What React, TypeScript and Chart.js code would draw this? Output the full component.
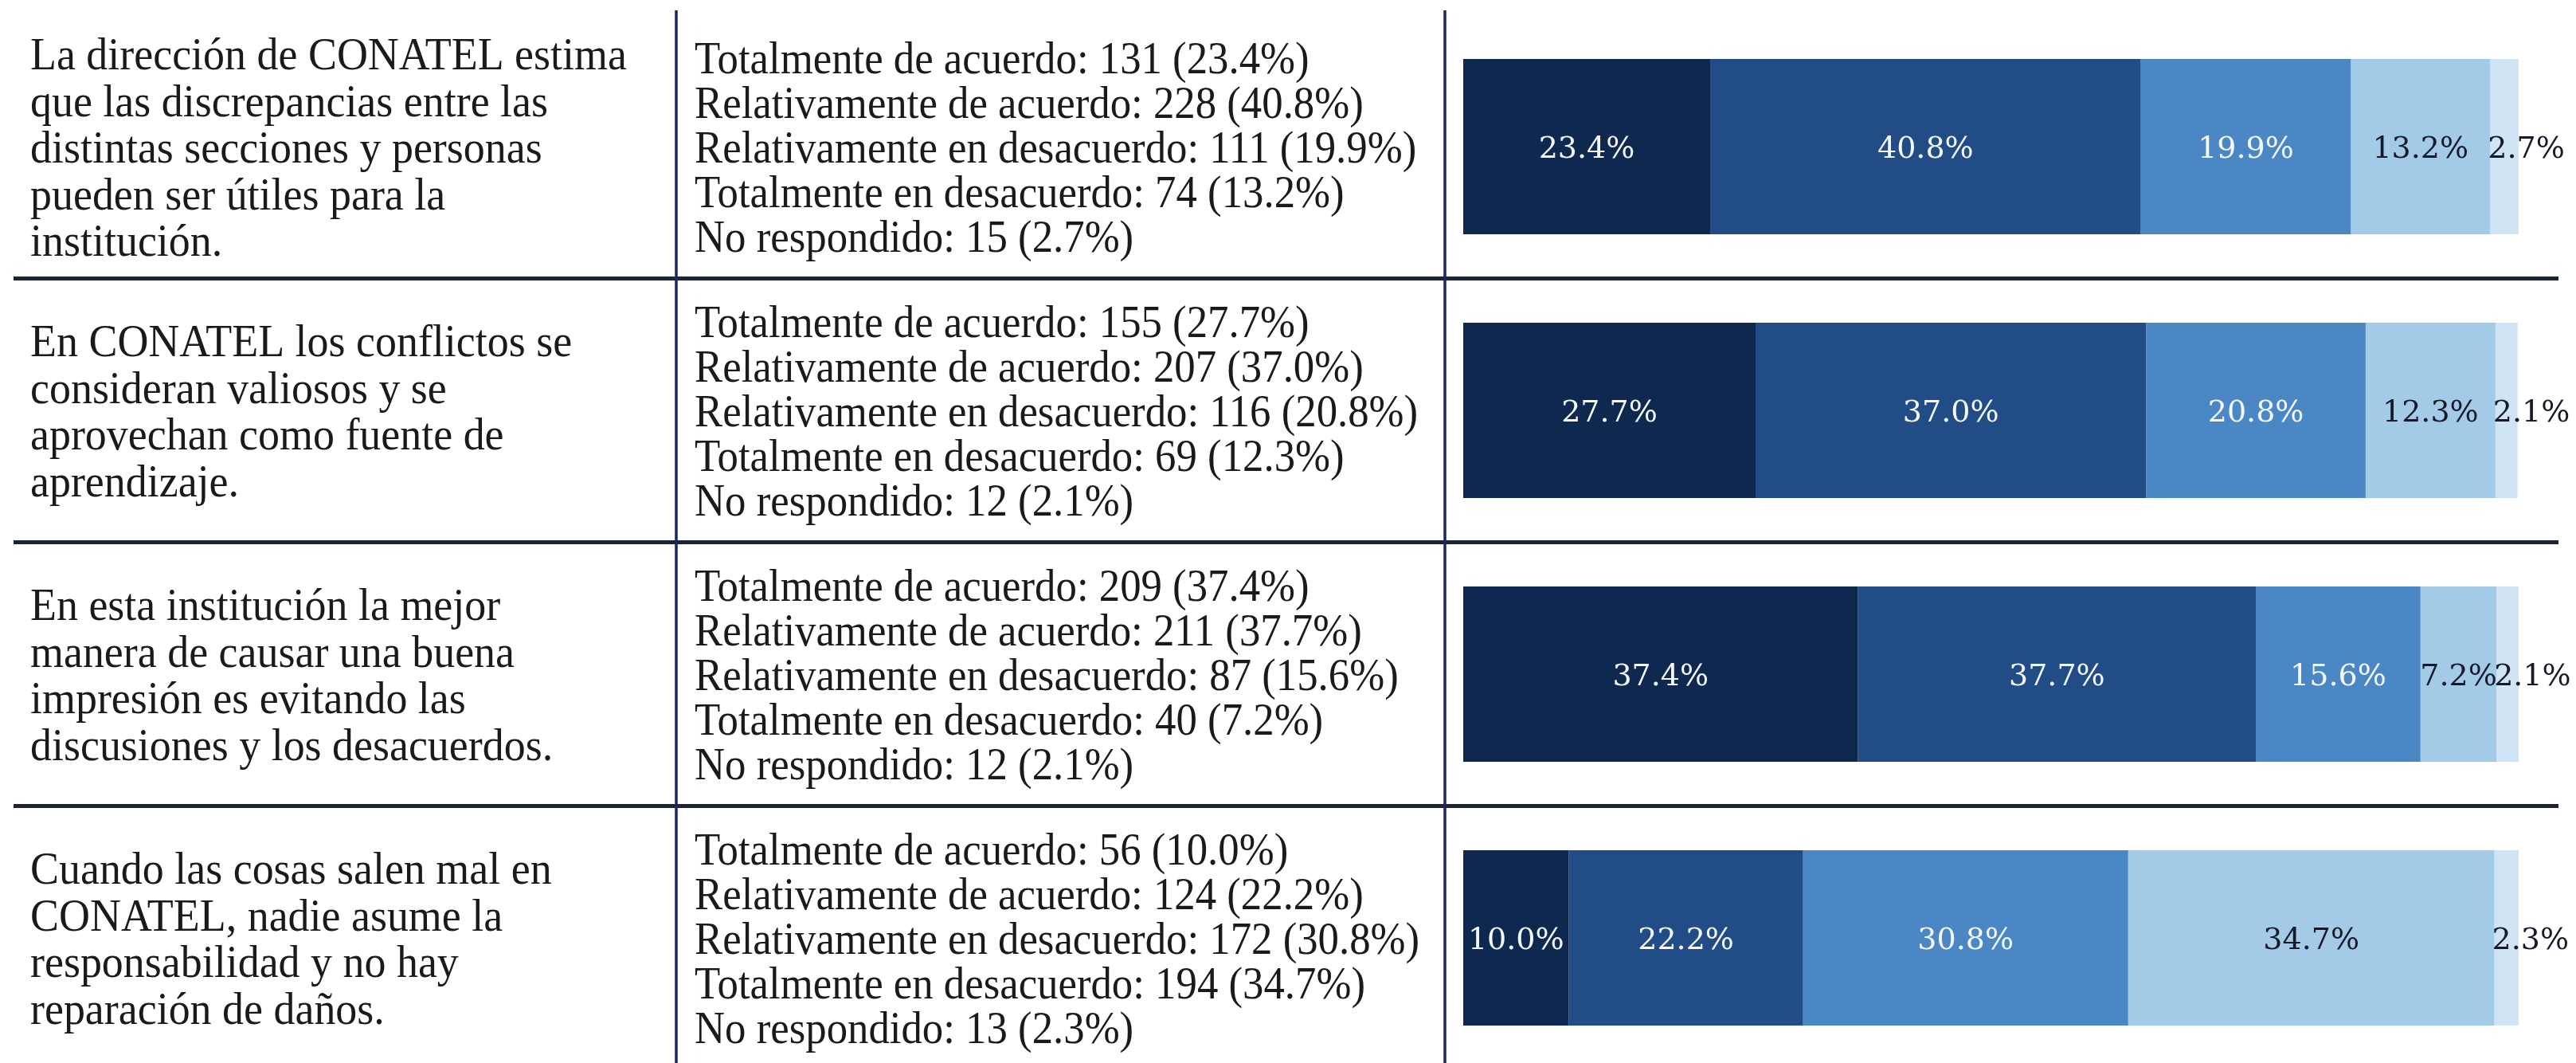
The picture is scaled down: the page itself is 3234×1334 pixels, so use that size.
import { useEffect, useRef } from 'react';
import { Chart, registerables } from 'chart.js';

Chart.register(...registerables);

// ---- data ----
const questionLines: string[][] = [
  ['La dirección de CONATEL estima', 'que las discrepancias entre las', 'distintas secciones y personas', 'pueden ser útiles para la', 'institución.'],
  ['En CONATEL los conflictos se', 'consideran valiosos y se', 'aprovechan como fuente de', 'aprendizaje.'],
  ['En esta institución la mejor', 'manera de causar una buena', 'impresión es evitando las', 'discusiones y los desacuerdos.'],
  ['Cuando las cosas salen mal en', 'CONATEL, nadie asume la', 'responsabilidad y no hay', 'reparación de daños.'],
];
const categories = questionLines.map((q) => q.join(' '));

const responseLabels = [
  'Totalmente de acuerdo',
  'Relativamente de acuerdo',
  'Relativamente en desacuerdo',
  'Totalmente en desacuerdo',
  'No respondido',
];

const countsTotAcuerdo = [131, 155, 209, 56];
const countsRelAcuerdo = [228, 207, 211, 124];
const countsRelDesacuerdo = [111, 116, 87, 172];
const countsTotDesacuerdo = [74, 69, 40, 194];
const countsNoResp = [15, 12, 12, 13];

const pctTotAcuerdo = [23.4, 27.7, 37.4, 10.0];
const pctRelAcuerdo = [40.8, 37.0, 37.7, 22.2];
const pctRelDesacuerdo = [19.9, 20.8, 15.6, 30.8];
const pctTotDesacuerdo = [13.2, 12.3, 7.2, 34.7];
const pctNoResp = [2.7, 2.1, 2.1, 2.3];

const allCounts = [countsTotAcuerdo, countsRelAcuerdo, countsRelDesacuerdo, countsTotDesacuerdo, countsNoResp];
const allPcts = [pctTotAcuerdo, pctRelAcuerdo, pctRelDesacuerdo, pctTotDesacuerdo, pctNoResp];

// ---- styles ----
const barColors = ['#0f2850', '#214c86', '#4a87c4', '#a3cbe8', '#cfe4f5'];
const labelColors = ['#f4f8ff', '#f4f8ff', '#f4f8ff', '#15192a', '#15192a'];
const TEXT_FONT = '58px "Liberation Serif"';
const Q_SCALE_X = 0.93;
const C_SCALE_X = 0.91;
const Q_LINE_H = 58.5;
const C_LINE_H = 56;
const Q_X = 38;
const C_X = 872;
const TEXT_DY = 5;
const VLINES = [849, 1814];
const HLINE_X0 = 17;
const HLINE_X1 = 3212;

const tablePlugin = {
  id: 'tablePlugin',
  afterDraw(chart: any) {
    const ctx: CanvasRenderingContext2D = chart.ctx;
    const ys = chart.scales.y;
    ctx.save();
    // separators
    ctx.strokeStyle = '#1c2336';
    ctx.lineWidth = 5;
    for (let i = 0; i < categories.length - 1; i++) {
      const yy = (ys.getPixelForValue(i) + ys.getPixelForValue(i + 1)) / 2;
      ctx.beginPath();
      ctx.moveTo(HLINE_X0, yy);
      ctx.lineTo(HLINE_X1, yy);
      ctx.stroke();
    }
    ctx.strokeStyle = '#1b2757';
    ctx.lineWidth = 3.5;
    VLINES.forEach((vx) => {
      ctx.beginPath();
      ctx.moveTo(vx, 13);
      ctx.lineTo(vx, chart.height);
      ctx.stroke();
    });

    // text columns
    ctx.fillStyle = '#1a1a1a';
    ctx.font = TEXT_FONT;
    ctx.textBaseline = 'middle';
    ctx.textAlign = 'left';
    categories.forEach((_, i) => {
      const cy = ys.getPixelForValue(i) + TEXT_DY;
      const lines = questionLines[i];
      lines.forEach((ln, k) => {
        const ly = cy + (k - (lines.length - 1) / 2) * Q_LINE_H;
        ctx.save();
        ctx.translate(Q_X, ly);
        ctx.scale(Q_SCALE_X, 1);
        ctx.fillText(ln, 0, 0);
        ctx.restore();
      });
      responseLabels.forEach((lab, k) => {
        const txt = `${lab}: ${allCounts[k][i]} (${allPcts[k][i].toFixed(1)}%)`;
        const ly = cy + (k - (responseLabels.length - 1) / 2) * C_LINE_H;
        ctx.save();
        ctx.translate(C_X, ly);
        ctx.scale(C_SCALE_X, 1);
        ctx.fillText(txt, 0, 0);
        ctx.restore();
      });
    });
    ctx.restore();
  },
  afterDatasetsDraw(chart: any) {
    const ctx: CanvasRenderingContext2D = chart.ctx;
    ctx.save();
    ctx.font = '38px "DejaVu Serif"';
    ctx.textBaseline = 'middle';
    const last = chart.data.datasets.length - 1;
    chart.data.datasets.forEach((ds: any, di: number) => {
      const meta = chart.getDatasetMeta(di);
      meta.data.forEach((el: any, i: number) => {
        const v = ds.data[i] as number;
        const p = el.getProps(['x', 'y', 'base'], true);
        const text = v.toFixed(1) + '%';
        ctx.fillStyle = labelColors[di];
        if (di === last) {
          ctx.textAlign = 'left';
          ctx.fillText(text, p.base - 3, p.y + 4);
        } else {
          ctx.textAlign = 'center';
          ctx.fillText(text, (p.x + p.base) / 2, p.y + 4);
        }
      });
    });
    ctx.restore();
  },
};

export default function App() {
  const ref = useRef<HTMLCanvasElement>(null);
  useEffect(() => {
    document.body.style.margin = '0';
    document.body.style.overflow = 'hidden';
    document.body.style.background = '#ffffff';
    const canvas = ref.current!;
    const chart = new Chart(canvas, {
      type: 'bar',
      data: {
        labels: categories,
        datasets: responseLabels.map((lab, k) => ({
          label: lab,
          data: allPcts[k],
          backgroundColor: barColors[k],
          borderWidth: 0,
          categoryPercentage: 1,
          barPercentage: 0.665,
        })),
      },
      options: {
        indexAxis: 'y',
        responsive: false,
        animation: false,
        devicePixelRatio: 1,
        layout: { padding: { left: 1837, right: 72, top: 18.5, bottom: 8.5 } },
        scales: {
          x: { stacked: true, min: 0, max: 100, display: false },
          y: { stacked: true, display: false },
        },
        plugins: {
          legend: { display: false },
          tooltip: { enabled: false },
        },
      },
      plugins: [tablePlugin],
    });
    return () => chart.destroy();
  }, []);
  return (
    <div style={{ position: 'absolute', left: 0, top: 0, width: 3234, height: 1351, background: '#fff' }}>
      <canvas ref={ref} width={3234} height={1351} style={{ display: 'block', width: 3234, height: 1351 }} />
    </div>
  );
}
